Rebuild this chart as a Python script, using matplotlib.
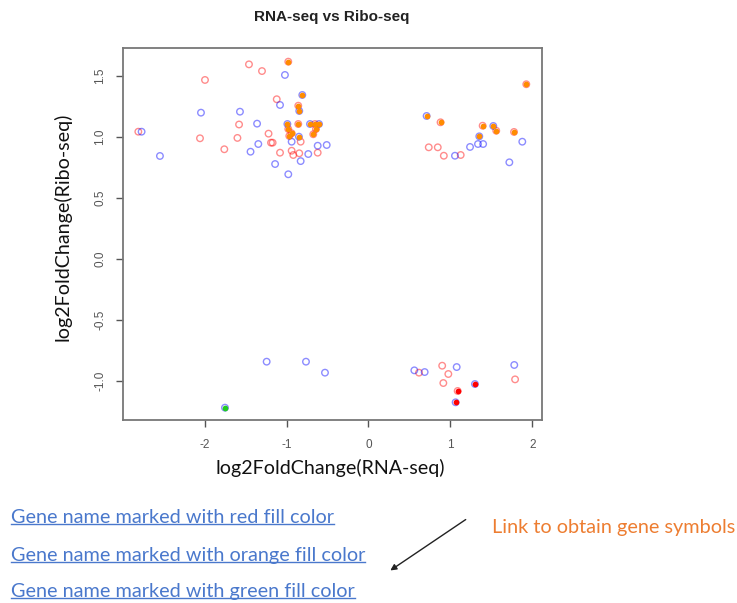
import matplotlib
matplotlib.use("Agg")
import matplotlib.pyplot as plt
from matplotlib.lines import Line2D
from matplotlib.patches import FancyArrowPatch

# ---------------- data ----------------
red_x = [-2.81, -1.996, -2.057, -1.76, -1.459, -1.30, -1.58, -1.60, -1.22, -1.19, -1.17,
         -1.08, -1.12, -0.828, -0.938, -0.918, -0.845, -0.62,
         -0.979, -0.857, -0.857, -0.653, -0.641, -0.674, -0.979, -0.938, -0.967,
         0.736, 0.846, 0.92, 1.126, 0.88, 1.394, 1.56, 1.777, 1.927,
         0.617, 0.90, 0.975, 0.914, 1.79, 1.089]
red_y = [1.041, 1.465, 0.987, 0.897, 1.593, 1.538, 1.10, 0.99, 1.025, 0.951, 0.951,
         0.869, 1.307, 0.959, 0.885, 0.85, 0.864, 0.869,
         1.615, 1.254, 1.104, 1.104, 1.063, 1.02, 1.063, 1.028, 1.006,
         0.913, 0.913, 0.844, 0.85, 1.118, 1.09, 1.049, 1.039, 1.43,
         -0.934, -0.877, -0.945, -1.019, -0.989, -1.084]

blue_x = [-2.77, -2.546, -2.045, -1.569, -1.36, -1.345, -1.44, -1.08, -1.02, -1.14,
          -0.979, -0.938, -0.735, -0.62, -0.51, -0.828,
          -0.808, -0.845, -0.99, -0.714, -0.604, -0.849,
          0.71, 1.056, 1.24, 1.337, 1.40, 1.353, 1.524, 1.878, 1.72,
          -1.243, -0.763, -0.531, -1.752, 0.56, 0.686, 1.077, 1.30, 1.064, 1.78]
blue_y = [1.041, 0.842, 1.197, 1.205, 1.107, 0.94, 0.877, 1.26, 1.506, 0.776,
          0.692, 0.959, 0.858, 0.926, 0.932, 0.80,
          1.342, 1.211, 1.104, 1.104, 1.104, 1.0,
          1.17, 0.844, 0.916, 0.94, 0.94, 1.003, 1.088, 0.959, 0.79,
          -0.844, -0.844, -0.934, -1.221, -0.915, -0.929, -0.888, -1.027, -1.177, -0.871]

orange_x = [-0.979, -0.857, -0.857, -0.653, -0.641, -0.674, -0.979, -0.938, -0.967,
            -0.808, -0.845, -0.99, -0.714, -0.604, -0.849,
            0.88, 1.394, 1.56, 1.777, 1.927, 0.71, 1.353, 1.524]
orange_y = [1.615, 1.254, 1.104, 1.104, 1.063, 1.02, 1.063, 1.028, 1.006,
            1.342, 1.211, 1.104, 1.104, 1.104, 1.0,
            1.118, 1.09, 1.049, 1.039, 1.43, 1.17, 1.003, 1.088]

redfill_x = [1.089, 1.30, 1.064]
redfill_y = [-1.084, -1.027, -1.177]

greenfill_x = [-1.752]
greenfill_y = [-1.221]

x_ticks = [-2, -1, 0, 1, 2]
y_ticks = [-1.0, -0.5, 0.0, 0.5, 1.0, 1.5]
y_tick_labels = ["-1.0", "-0.5", "0.0", "0.5", "1.0", "1.5"]

title = "RNA-seq vs Ribo-seq"
xlabel = "log2FoldChange(RNA-seq)"
ylabel = "log2FoldChange(Ribo-seq)"
links = ["Gene name marked with red fill color",
         "Gene name marked with orange fill color",
         "Gene name marked with green fill color"]
note = "Link to obtain gene symbols"

# ---------------- figure ----------------
W, H = 737, 603
fig = plt.figure(figsize=(W / 100, H / 100), dpi=100)
fig.patch.set_facecolor("white")

def fx(px):
    return px / W

def fy(py):
    return 1 - py / H

ax = fig.add_axes([fx(123), fy(420), (541.7 - 123) / W, (420 - 48) / H])
ax.set_xlim(-2.997, 2.115)
ax.set_ylim(-1.322, 1.727)

ring_size = 22
ax.scatter(red_x, red_y, s=ring_size, facecolors="none",
           edgecolors=(1, 0, 0, 0.45), linewidths=1.0, zorder=3)
ax.scatter(blue_x, blue_y, s=ring_size, facecolors="none",
           edgecolors=(0, 0, 1, 0.45), linewidths=1.0, zorder=4)
fill_size = 17
ax.scatter(orange_x, orange_y, s=fill_size, c="#ff8c00", linewidths=0, zorder=5)
ax.scatter(redfill_x, redfill_y, s=fill_size, c="#ff0000", linewidths=0, zorder=5)
ax.scatter(greenfill_x, greenfill_y, s=fill_size, c="#22cc22", linewidths=0, zorder=5)

for s in ax.spines.values():
    s.set_color("#777777")
    s.set_linewidth(1.3)

ax.set_xticks(x_ticks)
ax.set_xticklabels([str(t) for t in x_ticks])
ax.set_yticks(y_ticks)
ax.set_yticklabels(y_tick_labels, rotation=90, va="center")
ax.tick_params(direction="out", length=5, width=1.0, color="#555555",
               labelsize=8.5, labelcolor="#555555")
for lab in ax.get_xticklabels() + ax.get_yticklabels():
    lab.set_family("Liberation Sans")
ax.tick_params(axis="x", pad=9)
ax.tick_params(axis="y", pad=7)

fig.text(fx(332), fy(17), title, ha="center", va="center",
         fontsize=11, fontweight="bold", family="Liberation Sans", color="#222222")

lab_font = "Lato"
fig.text(fx(330), fy(468), xlabel, ha="center", va="center",
         fontsize=14.1, family=lab_font, color="#111111")
fig.text(fx(62), fy(227), ylabel, ha="center", va="center", rotation=90,
         fontsize=14.1, family=lab_font, color="#111111")

link_color = "#4a78cc"
link_texts = []
for t, yy in zip(links, [517.7, 555, 591.7]):
    tx = fig.text(fx(11), fy(yy), t, ha="left", va="center",
                  fontsize=14.3, family=lab_font, color=link_color)
    link_texts.append(tx)

fig.text(fx(492), fy(528), note, ha="left", va="center",
         fontsize=14.3, family=lab_font, color="#ed7d31")

fig.add_artist(FancyArrowPatch(
    (fx(468), fy(518)), (fx(388), fy(572)), transform=fig.transFigure,
    arrowstyle="-|>", mutation_scale=9, color="#222222", linewidth=1.0))

# underline the link texts
fig.canvas.draw()
renderer = fig.canvas.get_renderer()
for tx in link_texts:
    bb = tx.get_window_extent(renderer)
    yline = bb.y0 + 2
    fig.add_artist(Line2D([bb.x0 / W, bb.x1 / W], [yline / H, yline / H],
                          transform=fig.transFigure, color=link_color, linewidth=1.0))

fig.savefig("out.png", dpi=100)
